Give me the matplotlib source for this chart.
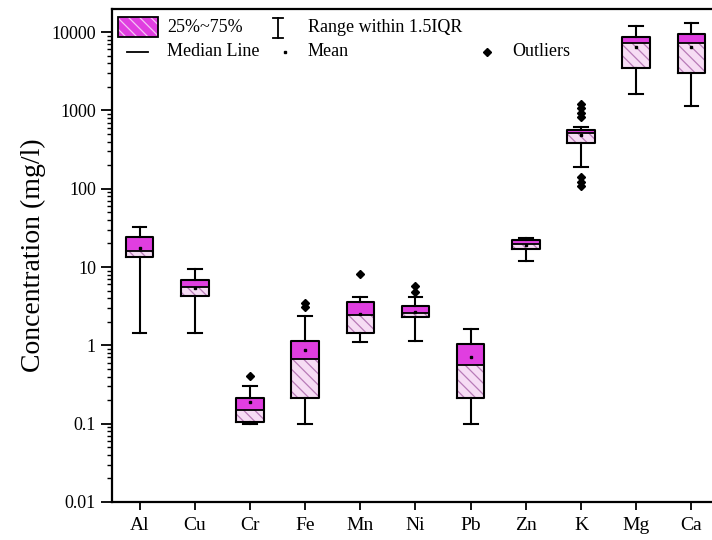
import matplotlib
matplotlib.use("Agg")
import matplotlib.pyplot as plt
from matplotlib.patches import Rectangle
from matplotlib.lines import Line2D

plt.rcParams['font.family'] = ['Liberation Serif', 'DejaVu Serif']
plt.rcParams['hatch.linewidth'] = 0.9

# values (mg/l)
elements = ["Al", "Cu", "Cr", "Fe", "Mn", "Ni", "Pb", "Zn", "K", "Mg", "Ca"]
q1 = [13.3, 4.3, 0.106, 0.215, 1.45, 2.31, 0.21, 16.9, 388, 3460, 3040]
median = [16.2, 5.6, 0.15, 0.67, 2.44, 2.6, 0.56, 19.7, 511, 7210, 7210]
q3 = [24.4, 6.8, 0.215, 1.15, 3.6, 3.14, 1.04, 22.2, 564, 8770, 9480]
whisker_low = [1.43, 1.43, 0.1, 0.1, 1.11, 1.13, 0.1, 12.0, 188, 1610, 1150]
whisker_high = [32.8, 9.4, 0.30, 2.37, 4.2, 4.2, 1.61, 23.3, 621, 12000, 12970]
means = [17.5, 5.4, 0.19, 0.87, 2.5, 2.7, 0.70, 19.0, 480, 6530, 6500]
outliers = [[], [], [0.41], [3.12, 3.45], [8.2], [4.85, 5.7], [], [],
            [109, 123, 140, 819, 938, 1067, 1211], [], []]

MAGENTA = "#e03ee0"
PALE = "#f6dcf4"
HATCH = "#b77ab7"

fig = plt.figure(figsize=(7.12, 5.40), dpi=100)
ax = fig.add_axes([112 / 712, 38 / 540, 607 / 712, 493 / 540])

positions = list(range(1, len(elements) + 1))
stats = []
for i in range(len(elements)):
    stats.append(dict(med=median[i], q1=q1[i], q3=q3[i], whislo=whisker_low[i],
                      whishi=whisker_high[i], mean=means[i], fliers=outliers[i]))

w = 0.5
for p, lo, md, hi in zip(positions, q1, median, q3):
    ax.add_patch(Rectangle((p - w / 2, md), w, hi - md, facecolor=MAGENTA,
                           edgecolor="none", zorder=1))
    ax.add_patch(Rectangle((p - w / 2, lo), w, md - lo, facecolor=PALE,
                           edgecolor="none", zorder=1))
    ax.add_patch(Rectangle((p - w / 2, lo), w, md - lo, facecolor="none",
                           edgecolor=HATCH, hatch="\\\\\\", linewidth=0, zorder=1.5))

ax.bxp(stats, positions=positions, widths=w, showmeans=True, capwidths=0.25,
       boxprops=dict(color="black", linewidth=1.5),
       whiskerprops=dict(color="black", linewidth=1.5),
       capprops=dict(color="black", linewidth=1.5),
       medianprops=dict(color="black", linewidth=1.3),
       meanprops=dict(marker="s", markerfacecolor="black", markeredgecolor="black",
                      markersize=2),
       flierprops=dict(marker="D", markerfacecolor="black", markeredgecolor="black",
                       markersize=4.5),
       zorder=2)

ax.set_yscale("log")
ax.set_ylim(0.01, 19700)
ax.set_xlim(0.5, 11.5)
ax.set_yticks([0.01, 0.1, 1, 10, 100, 1000, 10000])
ax.set_yticklabels(["0.01", "0.1", "1", "10", "100", "1000", "10000"])
ax.set_xticks(positions)
ax.set_xticklabels(elements)
ax.tick_params(axis="y", which="major", direction="out", length=8, width=1.3, labelsize=13)
ax.tick_params(axis="y", which="minor", direction="out", length=3.5, width=1)
ax.tick_params(axis="x", direction="out", length=6, width=1.3, labelsize=14, pad=5)
for s in ax.spines.values():
    s.set_linewidth(1.6)
ax.set_ylabel("Concentration (mg/l)", fontsize=20, labelpad=4)


# legend drawn by hand in pixel positions of the reference
def fx(x):
    return x / 712


def fy(y):
    return 1 - y / 540


tf = fig.transFigure
fig.add_artist(Rectangle((fx(118), fy(37)), fx(158) - fx(118), fy(17) - fy(37),
                         facecolor=MAGENTA, edgecolor="none", transform=tf))
fig.add_artist(Rectangle((fx(118), fy(37)), fx(158) - fx(118), fy(17) - fy(37),
                         facecolor="none", edgecolor="#f4c4f4", hatch="\\\\\\",
                         linewidth=0, transform=tf))
fig.add_artist(Rectangle((fx(118), fy(37)), fx(158) - fx(118), fy(17) - fy(37),
                         facecolor="none", edgecolor="black", linewidth=1.3, transform=tf))
fig.add_artist(Line2D([fx(278), fx(278)], [fy(18), fy(38)], color="black", lw=1.3, transform=tf))
for yy in (18, 38):
    fig.add_artist(Line2D([fx(273), fx(283)], [fy(yy), fy(yy)], color="black", lw=1.3, transform=tf))
fig.add_artist(Line2D([fx(127), fx(148)], [fy(52), fy(52)], color="black", lw=1.3, transform=tf))
fig.add_artist(Line2D([fx(285)], [fy(52)], marker="s", markersize=2, color="black",
                      linestyle="none", transform=tf))
fig.add_artist(Line2D([fx(487)], [fy(52)], marker="D", markersize=4.5, color="black",
                      linestyle="none", transform=tf))
legend_texts = [("25%~75%", 167, 28), ("Range within 1.5IQR", 308, 28),
                ("Median Line", 167, 52), ("Mean", 308, 52), ("Outliers", 512, 52)]
for txt, x, y in legend_texts:
    fig.text(fx(x), fy(y), txt, fontsize=13, va="center", ha="left")

fig.savefig("out.png", dpi=100)
